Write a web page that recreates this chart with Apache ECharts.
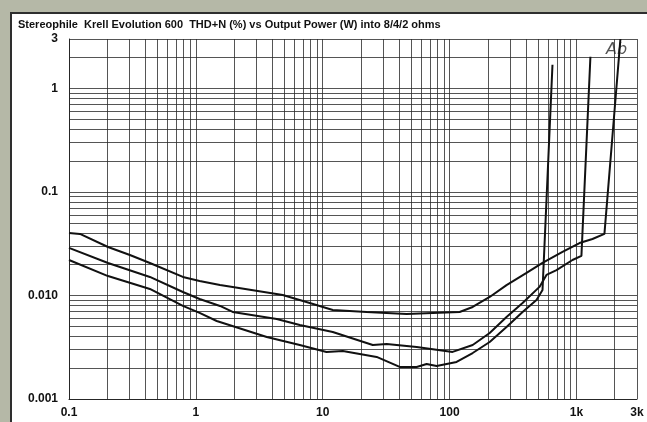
<!DOCTYPE html>
<html>
<head>
<meta charset="utf-8">
<script src="https://cdn.jsdelivr.net/npm/echarts@6/dist/echarts.min.js"></script>
<style>
  html, body { margin: 0; padding: 0; width: 647px; height: 422px; overflow: hidden; background: #b5b8a7; }
  #frame { position: absolute; left: 10px; top: 12px; width: 637px; height: 410px; background: #fff;
           border-left: 2px solid #2e2e2e; border-top: 2px solid #2e2e2e; box-sizing: border-box; }
  #chart { position: absolute; left: 0; top: 0; width: 647px; height: 422px; }
</style>
</head>
<body>
<div id="frame"></div>
<div id="chart"></div>
<script>
// output power (W) and THD+N (%)
const ohm2Power = [0.1, 0.122, 0.203, 0.302, 0.434, 0.79, 1.07, 1.55, 1.95, 4.84, 7.9, 12.0, 22.2, 45.8, 73.5, 120, 152, 207, 281, 404, 540, 776, 1057, 1337, 1661, 2220]
const ohm2Thd = [0.0402, 0.0393, 0.0294, 0.0246, 0.0206, 0.0151, 0.0138, 0.0126, 0.0121, 0.0101, 0.00847, 0.00724, 0.00693, 0.00663, 0.00678, 0.00693, 0.00774, 0.00967, 0.0126, 0.0165, 0.0206, 0.0263, 0.0321, 0.0351, 0.0393, 3]

const ohm4Power = [0.1, 0.203, 0.434, 0.79, 1.07, 1.55, 1.95, 4.34, 6.59, 12.0, 24.8, 31.9, 55.0, 105.6, 152, 207, 281, 376, 511, 580, 696, 930, 1094, 1288]
const ohm4Thd = [0.0288, 0.0206, 0.0151, 0.0108, 0.00925, 0.00792, 0.00693, 0.00593, 0.00519, 0.00444, 0.00332, 0.0034, 0.00318, 0.00285, 0.00332, 0.00434, 0.0062, 0.00847, 0.0121, 0.0158, 0.0176, 0.0220, 0.0241, 2.02]

const ohm8Power = [0.1, 0.203, 0.434, 0.79, 1.07, 1.46, 3.62, 6.59, 10.7, 14.4, 26.6, 40.4, 55.0, 65.9, 79.0, 113.5, 152, 207, 281, 376, 484, 540, 647]
const ohm8Thd = [0.0220, 0.0154, 0.01156, 0.00792, 0.00678, 0.00567, 0.00397, 0.00332, 0.00285, 0.00291, 0.00255, 0.00204, 0.00204, 0.00218, 0.00208, 0.00228, 0.00278, 0.00355, 0.00496, 0.00693, 0.00905, 0.0113, 1.69]

// tick labels
const xTickValues = [0.1, 1, 10, 100, 1000, 3000]
const xTickLabels = ['0.1', '1', '10', '100', '1k', '3k']
const yTickValues = [0.001, 0.01, 0.1, 1, 3]
const yTickLabels = ['0.001', '0.010', '0.1', '1', '3']

// log grid lines: 1..9 per decade
function logGrid(from, to) {
  const out = []
  for (let d = from; d < to * 0.999; d *= 10) {
    for (let m = 1; m <= 9; m++) {
      const v = +(d * m).toPrecision(6)
      if (v <= to * 1.0001) out.push(v)
    }
  }
  if (out[out.length - 1] < to) out.push(to)
  return out
}
const xGrid = logGrid(0.1, 3000)
const yGrid = logGrid(0.001, 3)

const chart = echarts.init(document.getElementById('chart'))

const labelFont = { color: '#111', fontWeight: 'bold', fontSize: 12, fontFamily: 'Liberation Sans, Arial, sans-serif' }
const gridLine = { show: true, lineStyle: { color: '#2a2a2a', width: 1, opacity: 0.8 } }

function toPairs(xs, ys) {
  return xs.map((x, i) => [x, ys[i]])
}

function curve(name, xs, ys) {
  return {
    name: name,
    type: 'line',
    data: toPairs(xs, ys),
    showSymbol: false,
    smooth: false,
    clip: true,
    lineStyle: { color: '#111', width: 2 },
    itemStyle: { color: '#111' },
  }
}

chart.setOption({
  animation: false,
  backgroundColor: 'transparent',
  title: {
    text: 'Stereophile  Krell Evolution 600  THD+N (%) vs Output Power (W) into 8/4/2 ohms',
    left: 13,
    top: 14,
    textStyle: { color: '#111', fontWeight: 'bold', fontSize: 11, fontFamily: 'Liberation Sans, Arial, sans-serif' },
  },
  grid: { left: 69, right: 10, top: 39, bottom: 23 },
  xAxis: {
    type: 'log',
    logBase: 10,
    min: 0.1,
    max: 3000,
    axisLine: { show: true, lineStyle: { color: '#262626', width: 1 } },
    axisTick: { show: false, customValues: xGrid },
    splitLine: gridLine,
    axisLabel: {
      customValues: xTickValues,
      margin: 8,
      ...labelFont,
      formatter: (v) => {
        const i = xTickValues.findIndex(t => Math.abs(t - v) / t < 1e-6)
        return i >= 0 ? xTickLabels[i] : ''
      },
    },
  },
  yAxis: {
    type: 'log',
    logBase: 10,
    min: 0.001,
    max: 3,
    axisLine: { show: true, lineStyle: { color: '#262626', width: 1 } },
    axisTick: { show: false, customValues: yGrid },
    splitLine: gridLine,
    axisLabel: {
      customValues: yTickValues,
      margin: 11,
      ...labelFont,
      formatter: (v) => {
        const i = yTickValues.findIndex(t => Math.abs(t - v) / t < 1e-6)
        return i >= 0 ? yTickLabels[i] : ''
      },
    },
  },
  graphic: [
    {
      type: 'text',
      left: 606,
      top: 42,
      style: { text: 'Ab', fill: '#555', fontSize: 16, fontStyle: 'italic', fontFamily: 'DejaVu Sans, sans-serif' },
    },
  ],
  series: [
    curve('2 ohms', ohm2Power, ohm2Thd),
    curve('4 ohms', ohm4Power, ohm4Thd),
    curve('8 ohms', ohm8Power, ohm8Thd),
  ],
})
</script>
</body>
</html>
